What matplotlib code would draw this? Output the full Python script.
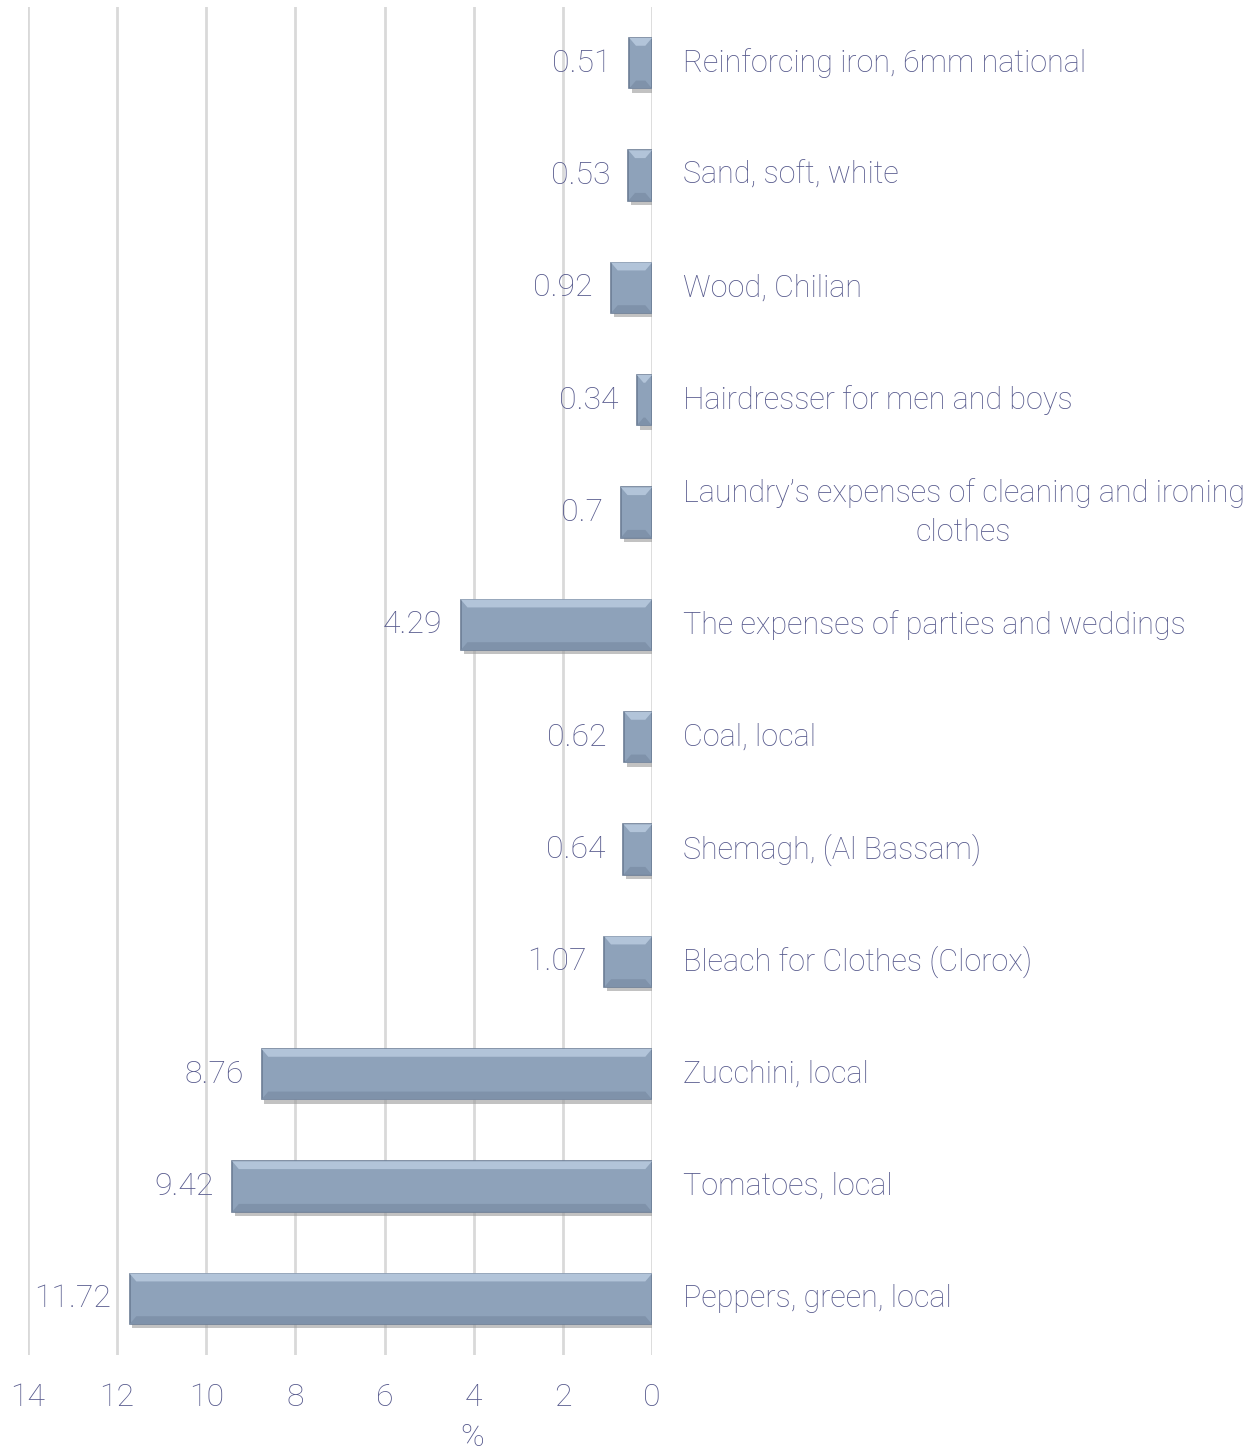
import matplotlib.pyplot as plt
from matplotlib import rcParams
from matplotlib import patheffects as pe
from matplotlib.patches import Polygon
import numpy as np

rcParams['font.family'] = ['Roboto', 'DejaVu Sans']
rcParams['font.weight'] = 'light'
rcParams['font.size'] = 23

items = ['Reinforcing iron, 6mm national', 'Sand, soft, white', 'Wood, Chilian',
         'Hairdresser for men and boys',
         'Laundry\u2019s expenses of cleaning and ironing\nclothes',
         'The expenses of parties and weddings', 'Coal, local', 'Shemagh, (Al Bassam)',
         'Bleach for Clothes (Clorox)', 'Zucchini, local', 'Tomatoes, local',
         'Peppers, green, local']
values = [0.51, 0.53, 0.92, 0.34, 0.7, 4.29, 0.62, 0.64, 1.07, 8.76, 9.42, 11.72]
xticks = [14, 12, 10, 8, 6, 4, 2, 0]

txt_c = '#575a8d'
bar_c = '#8ea2ba'

fig = plt.figure(figsize=(12.55, 14.52), dpi=100)
ax = fig.add_axes([28/1255, 97/1452, 624/1255, 1348/1452])

y = np.arange(len(items))
h = 0.45
bars = ax.barh(y, values, height=h, color=bar_c, edgecolor='#6c7d95', linewidth=1.2, zorder=3)
for b in bars:
    b.set_path_effects([pe.SimplePatchShadow(offset=(2, -3), shadow_rgbFace='#9a9a9a', alpha=0.6), pe.Normal()])

# bevel highlight / shade
for yi, v in zip(y, values):
    t, bt = yi - h/2, yi + h/2
    dx = min(0.15, v/2)
    dy = 0.07
    ax.add_patch(Polygon([(0, t), (v, t), (v - dx, t + dy), (dx, t + dy)],
                         closed=True, facecolor='#b2c4d9', edgecolor='none', zorder=4))
    ax.add_patch(Polygon([(0, bt), (v, bt), (v - dx, bt - dy), (dx, bt - dy)],
                         closed=True, facecolor='#7f92aa', edgecolor='none', zorder=4))
    ax.annotate(f'{v:g}', xy=(v, yi), xytext=(-13, 0), textcoords='offset points',
                ha='right', va='center', color=txt_c)

for yi, name in zip(y, items):
    ax.annotate(name, xy=(0, yi), xytext=(22, 0), textcoords='offset points',
                ha='left', va='center', multialignment='center', color=txt_c,
                fontsize=22, linespacing=1.45, annotation_clip=False)

ax.set_xlim(14, 0)
ax.set_ylim(len(items) - 0.5, -0.5)
ax.set_xticks(xticks)
ax.set_xticklabels([str(t) for t in xticks], color=txt_c)
ax.set_yticks([])
ax.tick_params(axis='x', length=0, pad=20)
ax.grid(axis='x', color='#d9d9d9', linewidth=2, zorder=0)
for s in ax.spines.values():
    s.set_visible(False)

fig.text(472/1255, 1 - 1438/1452, '%', ha='center', va='center', color=txt_c)

fig.savefig('out.png', dpi=100)
